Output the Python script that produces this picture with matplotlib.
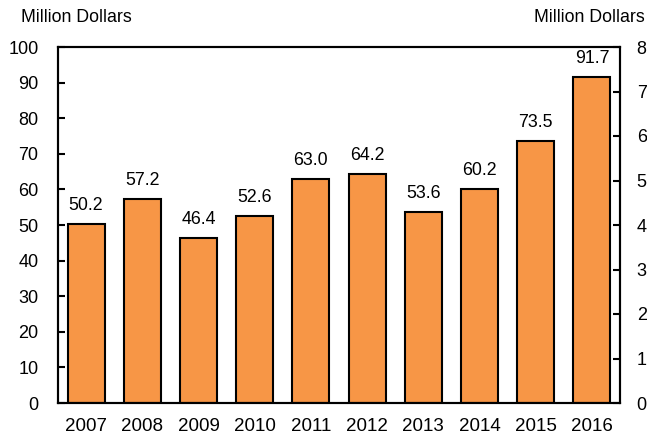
import matplotlib.pyplot as plt
import numpy as np

plt.rcParams['font.family'] = ['Liberation Sans', 'DejaVu Sans']

years = ['2007', '2008', '2009', '2010', '2011', '2012', '2013', '2014', '2015', '2016']
values = [50.2, 57.2, 46.4, 52.6, 63.0, 64.2, 53.6, 60.2, 73.5, 91.7]
left_ticks = list(range(0, 101, 10))
right_ticks = list(range(0, 9))

fig = plt.figure(figsize=(6.47, 4.38), dpi=100)
ax = fig.add_axes([58/647, 1 - 403/438, 562/647, 356/438])

x = np.arange(len(years))
ax.bar(x, values, width=0.66, color='#F79646', edgecolor='black', linewidth=1.5, zorder=2)
for xi, v in zip(x, values):
    ax.text(xi, v + 2.8, f'{v:.1f}', ha='center', va='bottom', fontsize=12.8)

ax.set_xlim(-0.5, len(years) - 0.5)
ax.set_ylim(0, 100)
ax.set_yticks(left_ticks)
ax.set_xticks(x)
ax.set_xticklabels(years)
ax.tick_params(axis='y', direction='in', length=5, width=1.5, labelsize=13, pad=14)
ax.tick_params(axis='x', length=0, labelsize=13.5, pad=11)
for s in ax.spines.values():
    s.set_linewidth(1.5)

ax2 = ax.twinx()
ax2.set_ylim(0, 8)
ax2.set_yticks(right_ticks)
ax2.tick_params(axis='y', direction='in', length=5, width=1.5, labelsize=13, pad=12)
for s in ax2.spines.values():
    s.set_linewidth(1.5)

fig.text(21/647, 1 - 17/438, 'Million Dollars', ha='left', va='center', fontsize=12.8)
fig.text(645/647, 1 - 17/438, 'Million Dollars', ha='right', va='center', fontsize=12.8)

fig.savefig('out.png', dpi=100)
